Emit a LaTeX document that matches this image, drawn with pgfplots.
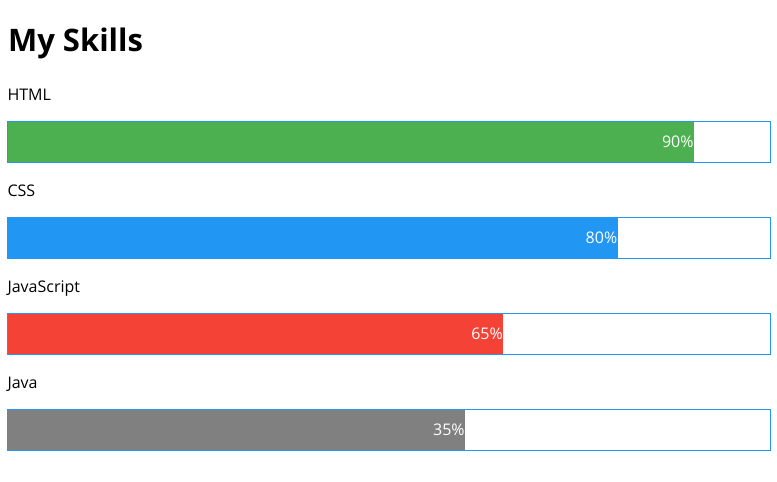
\documentclass[border=0pt]{standalone}
\usepackage{pgfplots}
\pgfplotsset{compat=1.18}
\usepackage{fontspec}
\setmainfont{Open Sans}
\definecolor{cgreen}{HTML}{4CAF50}
\definecolor{cblue}{HTML}{2196F3}
\definecolor{cred}{HTML}{F44336}
\definecolor{cgray}{HTML}{808080}
\begin{document}
\begin{tikzpicture}
\begin{axis}[
  width=777bp, height=482bp, scale only axis,
  xmin=-0.983, xmax=100.852,
  ymin=0, ymax=482, y dir=reverse,
  hide axis, clip=false,
  xbar, bar width=41, bar shift=0pt,
  point meta=explicit symbolic,
  nodes near coords={\pgfplotspointmeta},
  every node near coord/.append style={anchor=east, inner sep=0pt, xshift=-0.5bp, text=white, font=\fontsize{16bp}{19bp}\selectfont},
]
\path (rel axis cs:0,0) rectangle (rel axis cs:1,1);
\addplot[fill=cgreen, draw=none] coordinates {(90,142) [90\%]};
\addplot[fill=cblue, draw=none] coordinates {(80,238) [80\%]};
\addplot[fill=cred, draw=none] coordinates {(65,334) [65\%]};
\addplot[fill=cgray, draw=none] coordinates {(60,430) [35\%]};
\addplot[fill=none, draw=cblue, line width=1bp, nodes near coords={}] coordinates {(100,142) [] (100,238) [] (100,334) [] (100,430) []};
\node[anchor=base west, inner sep=0pt, font=\fontsize{31bp}{37bp}\selectfont\bfseries] at (axis cs:0.05,52) {My Skills};
\node[anchor=base west, inner sep=0pt, font=\fontsize{16bp}{19bp}\selectfont] at (axis cs:-0.02,100) {HTML};
\node[anchor=base west, inner sep=0pt, font=\fontsize{16bp}{19bp}\selectfont] at (axis cs:-0.02,196) {CSS};
\node[anchor=base west, inner sep=0pt, font=\fontsize{16bp}{19bp}\selectfont] at (axis cs:-0.02,292) {JavaScript};
\node[anchor=base west, inner sep=0pt, font=\fontsize{16bp}{19bp}\selectfont] at (axis cs:-0.02,388) {Java};
\end{axis}
\end{tikzpicture}
\end{document}
